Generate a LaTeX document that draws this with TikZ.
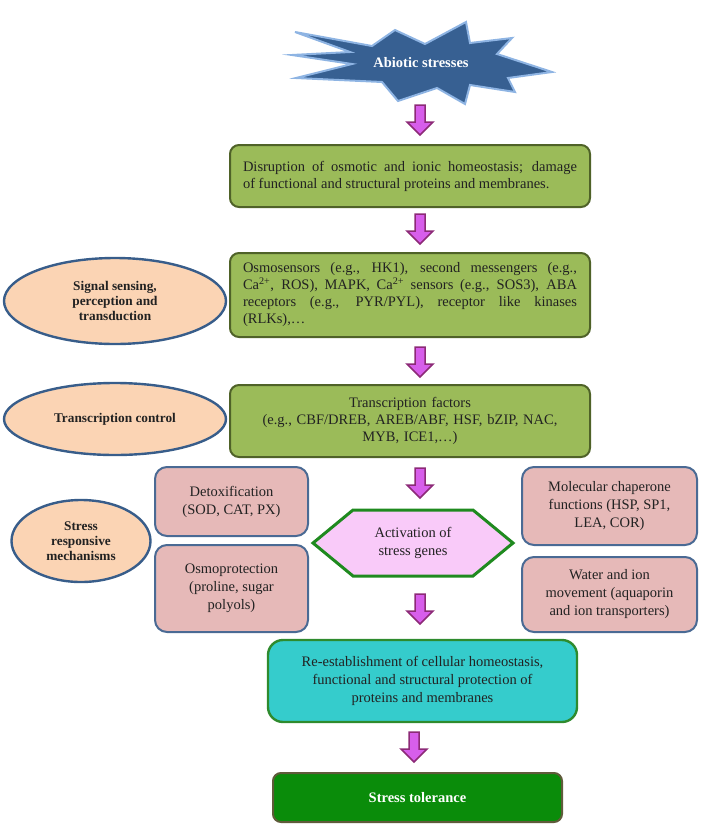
\documentclass[tikz,border=0pt]{standalone}
\usepackage{fontspec}
\setmainfont{Liberation Serif}
\usetikzlibrary{shapes.geometric}

\definecolor{boxgreen}{HTML}{9BBB59}
\definecolor{boxgreenline}{HTML}{4F6228}
\definecolor{peach}{HTML}{FBD4B4}
\definecolor{ellline}{HTML}{385D8A}
\definecolor{rose}{HTML}{E6B9B8}
\definecolor{roseline}{HTML}{4A6A94}
\definecolor{lilac}{HTML}{F9CAF9}
\definecolor{hexline}{HTML}{1F8A1F}
\definecolor{tealfill}{HTML}{35CCCC}
\definecolor{tealline}{HTML}{2E8B2E}
\definecolor{tolgreen}{HTML}{0A8C0A}
\definecolor{tolline}{HTML}{5F5B3A}
\definecolor{arrowfill}{HTML}{D75EEB}
\definecolor{arrowline}{HTML}{8C2A77}
\definecolor{starfill}{HTML}{376092}
\definecolor{starline}{HTML}{8EB4E3}
\definecolor{ink}{HTML}{222222}

\newcommand\bodyfont{\fontsize{14.5}{17}\selectfont\tolerance=9999\pretolerance=-1\hyphenpenalty=10000}
\newcommand\labelfont{\fontsize{13.3}{15}\selectfont\bfseries}

\begin{document}
\begin{tikzpicture}[x=1pt,y=-1pt,
  greenbox/.style={draw=boxgreenline, fill=boxgreen, line width=2pt, rounded corners=9pt,
    text width=334pt, inner xsep=13pt, inner ysep=0pt, align=justify, font=\bodyfont, text=ink},
  ovalbox/.style={ellipse, draw=ellline, fill=peach, line width=2.4pt, inner sep=0pt,
    align=center, font=\labelfont, text=ink},
  rosebox/.style={draw=roseline, fill=rose, line width=2pt, rounded corners=12pt,
    inner sep=0pt, align=center, font=\fontsize{14.5}{18}\selectfont, text=ink},
  hexshape/.style={draw=hexline, fill=lilac, line width=3pt, line join=miter},
  blockarrow/.style={draw=arrowline, fill=arrowfill, line width=1.5pt, line join=miter},
  pics/blockdown/.style={code={
    \draw[blockarrow] (-5,0) -- (5,0) -- (5,17) -- (13,17) -- (0,30) -- (-13,17) -- (-5,17) -- cycle;}}
]
\useasboundingbox (0,0) rectangle (701,825);

% starburst with the title
\draw[draw=starline, fill=starfill, line width=2pt, line join=miter]
  (295,32) -- (372,46) -- (395,30) -- (425,44) -- (466,22) -- (470,43) -- (512,38)
  -- (497,54) -- (552,72) -- (508,78) -- (515,92) -- (470,85) -- (465,104) -- (437,88)
  -- (398,101) -- (382,82) -- (296,78) -- (352,64) -- (292,55) -- (350,52) -- cycle;
\node[font=\fontsize{14.5}{17}\selectfont\bfseries, text=white] (abiotic) at (421,63) {Abiotic stresses};

% main chain of green boxes
\node[greenbox, minimum height=62pt] (disrupt) at (410,176)
  {Disruption of osmotic and ionic homeostasis; damage\linebreak of functional and structural proteins and membranes.};
\node[greenbox, minimum height=84pt] (sensors) at (410,295)
  {Osmosensors (e.g., HK1), second messengers (e.g.,\linebreak
   Ca\textsuperscript{2+}, ROS), MAPK, Ca\textsuperscript{2+} sensors (e.g., SOS3), ABA\linebreak
   receptors (e.g., PYR/PYL), receptor like kinases\linebreak (RLKs),…};
\node[greenbox, align=center, minimum height=72pt] (tfs) at (410,421)
  {Transcription factors\\(e.g., CBF/DREB, AREB/ABF, HSF, bZIP, NAC,\\MYB, ICE1,…)};

% level labels
\node[ovalbox, minimum width=222pt, minimum height=86pt] (sensing) at (115,301)
  {Signal sensing,\\perception and\\transduction};
\node[ovalbox, minimum width=222pt, minimum height=72pt] (control) at (115,419)
  {Transcription control};
\node[ovalbox, minimum width=139pt, minimum height=82pt] (mech) at (81,541)
  {Stress\\responsive\\mechanisms};

% stress responsive mechanisms
\node[rosebox, minimum width=153pt, minimum height=69pt] (detox) at (231.5,501.5)
  {Detoxification\\(SOD, CAT, PX)};
\node[rosebox, minimum width=153pt, minimum height=87pt] (osmo) at (231.5,588.5)
  {Osmoprotection\\(proline, sugar\\polyols)};
\node[rosebox, minimum width=175pt, minimum height=78pt] (chaperone) at (609.5,506)
  {Molecular chaperone\\functions (HSP, SP1,\\LEA, COR)};
\node[rosebox, minimum width=175pt, minimum height=75pt] (water) at (609.5,594.5)
  {Water and ion\\movement (aquaporin\\and ion transporters)};

% activation hexagon
\draw[hexshape] (313,543) -- (353,510) -- (473,510) -- (513,543) -- (473,576) -- (353,576) -- cycle;
\node[align=center, font=\fontsize{14.5}{18}\selectfont, text=ink] (activation) at (413,543)
  {Activation of\\stress genes};

% outcome boxes
\node[draw=tealline, fill=tealfill, line width=2.4pt, rounded corners=15pt,
  minimum width=309pt, minimum height=82pt, inner sep=0pt, align=center,
  font=\fontsize{14.5}{18.3}\selectfont, text=ink] (reest) at (422.5,681)
  {Re-establishment of cellular homeostasis,\\functional and structural protection of\\proteins and membranes};
\node[draw=tolline, fill=tolgreen, line width=2pt, rounded corners=8pt,
  minimum width=289pt, minimum height=49pt, inner sep=0pt,
  font=\fontsize{14.5}{17}\selectfont\bfseries, text=white] (tolerance) at (417.5,797.5)
  {Stress tolerance};

% block arrows down the chain
\pic at (420,105) {blockdown};
\pic at (420,214) {blockdown};
\pic at (420,347) {blockdown};
\pic at (420,468) {blockdown};
\pic at (420,594) {blockdown};
\pic at (414,732) {blockdown};
\end{tikzpicture}
\end{document}
